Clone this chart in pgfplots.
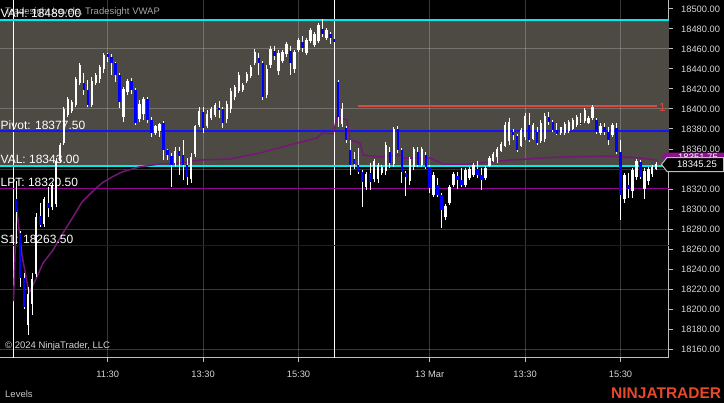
\documentclass[border=0pt]{standalone}
\usepackage{fontspec}
\setmainfont{Liberation Sans}
\usepackage{pgfplots}
\usepackage{pgfplotstable}
\pgfplotsset{compat=1.18}
\definecolor{shadecol}{RGB}{77,74,68}
\definecolor{lvlcyan}{RGB}{0,235,235}
\definecolor{pivotblue}{RGB}{20,20,245}
\definecolor{s1blue}{RGB}{10,10,200}
\definecolor{lptmag}{RGB}{150,0,150}
\definecolor{vwapcol}{RGB}{115,25,115}
\definecolor{candleblue}{RGB}{0,0,255}
\definecolor{tickgrey}{RGB}{215,215,215}
\definecolor{axgrey}{RGB}{190,190,190}
\definecolor{redline}{RGB}{215,75,65}
\definecolor{ntorange}{RGB}{232,72,42}
\definecolor{tagpurple}{RGB}{140,20,140}

% i = bar index (day 1: 0-80, day 2: 81-161), o h l c, u = 1 white (up) / 0 blue (down)
\pgfplotstableread{
i o h l c u
0 18310 18328 18265 18297 0
1 18276 18278 18222 18231 0
2 18231 18236 18200 18202 0
3 18184 18222 18174 18215 1
4 18205 18236 18194 18230 1
5 18235 18296 18232 18292 1
6 18293 18306 18282 18284 0
7 18285 18312 18282 18310 1
8 18306 18322 18292 18301 0
9 18302 18326 18299 18324 1
10 18305 18351 18302 18348 1
11 18348 18366 18346 18364 1
12 18366 18402 18364 18400 1
13 18394 18412 18392 18410 1
14 18398 18409 18396 18407 1
15 18404 18432 18402 18430 1
16 18426 18446 18424 18444 1
17 18426 18436 18414 18419 0
18 18419 18429 18402 18404 0
19 18404 18432 18402 18428 1
20 18426 18436 18424 18434 1
21 18430 18444 18426 18442 1
22 18440 18456 18436 18454 1
23 18455 18456 18447 18452 0
24 18452 18455 18434 18446 0
25 18446 18447 18427 18434 0
26 18434 18436 18401 18407 0
27 18392 18422 18387 18420 1
28 18417 18430 18414 18428 1
29 18428 18431 18415 18419 0
30 18419 18421 18384 18386 0
31 18390 18409 18387 18405 1
32 18395 18412 18389 18410 1
33 18410 18412 18386 18389 0
34 18389 18392 18372 18376 0
35 18376 18384 18374 18383 1
36 18378 18386 18372 18385 1
37 18386 18388 18349 18359 0
38 18359 18360 18349 18354 0
39 18353 18356 18322 18344 0
40 18346 18362 18342 18358 1
41 18358 18362 18334 18353 0
42 18354 18369 18329 18344 0
43 18344 18351 18324 18332 0
44 18330 18356 18326 18352 1
45 18355 18384 18352 18383 1
46 18384 18402 18382 18398 1
47 18397 18402 18376 18381 0
48 18383 18399 18381 18395 1
49 18391 18402 18389 18400 1
50 18394 18406 18392 18404 1
51 18401 18408 18391 18399 0
52 18400 18402 18381 18386 0
53 18390 18408 18386 18405 1
54 18400 18421 18396 18418 1
55 18412 18424 18409 18422 1
56 18418 18437 18416 18434 1
57 18419 18426 18417 18424 1
58 18428 18437 18426 18435 1
59 18433 18444 18431 18442 1
60 18446 18460 18444 18457 1
61 18451 18456 18434 18446 0
62 18446 18448 18409 18412 0
63 18414 18444 18411 18440 1
64 18444 18463 18441 18460 1
65 18458 18463 18449 18453 0
66 18438 18459 18434 18456 1
67 18448 18459 18446 18457 1
68 18455 18467 18452 18465 1
69 18458 18463 18434 18446 0
70 18440 18459 18436 18457 1
71 18459 18471 18457 18469 1
72 18467 18473 18457 18461 0
73 18456 18471 18454 18469 1
74 18468 18481 18466 18479 1
75 18464 18477 18462 18475 1
76 18468 18486 18466 18484 1
77 18480 18490 18472 18475 0
78 18471 18481 18469 18479 1
79 18475 18477 18465 18471 0
80 18470 18472 18464 18467 0
81 18427 18429 18382 18392 0
82 18385 18406 18382 18400 1
83 18381 18383 18366 18369 0
84 18359 18369 18334 18344 0
85 18350 18357 18340 18345 0
86 18344 18361 18335 18337 0
87 18337 18339 18302 18327 0
88 18322 18337 18319 18335 1
89 18336 18346 18319 18327 0
90 18330 18350 18327 18348 1
91 18330 18346 18326 18344 1
92 18336 18344 18334 18342 1
93 18338 18367 18334 18364 1
94 18357 18362 18341 18346 0
95 18345 18382 18342 18380 1
96 18380 18383 18356 18359 0
97 18359 18361 18326 18337 0
98 18336 18338 18313 18332 0
99 18328 18352 18324 18350 1
100 18342 18362 18339 18360 1
101 18357 18362 18342 18344 0
102 18344 18362 18342 18360 1
103 18354 18357 18340 18342 0
104 18342 18344 18316 18321 0
105 18314 18337 18312 18334 1
106 18324 18331 18312 18314 0
107 18314 18316 18281 18299 0
108 18292 18305 18289 18303 1
109 18306 18324 18304 18322 1
110 18324 18337 18322 18335 1
111 18333 18337 18320 18329 0
112 18329 18341 18322 18324 0
113 18324 18341 18322 18339 1
114 18331 18342 18329 18340 1
115 18334 18346 18332 18344 1
116 18340 18348 18331 18334 0
117 18334 18341 18319 18329 0
118 18331 18343 18329 18341 1
119 18343 18353 18342 18351 1
120 18348 18357 18347 18355 1
121 18352 18362 18346 18360 1
122 18358 18367 18357 18365 1
123 18363 18387 18362 18384 1
124 18368 18391 18364 18387 1
125 18377 18380 18369 18374 0
126 18373 18375 18357 18359 0
127 18363 18381 18362 18379 1
128 18372 18396 18369 18393 1
129 18384 18396 18367 18369 0
130 18370 18386 18369 18384 1
131 18377 18382 18364 18366 0
132 18368 18389 18366 18386 1
133 18370 18396 18367 18393 1
134 18392 18397 18384 18387 0
135 18387 18389 18377 18379 0
136 18379 18386 18374 18375 0
137 18376 18382 18374 18382 1
138 18376 18387 18374 18385 1
139 18378 18389 18376 18387 1
140 18380 18391 18379 18389 1
141 18384 18394 18382 18392 1
142 18386 18396 18384 18385 0
143 18388 18401 18386 18399 1
144 18386 18393 18385 18391 1
145 18391 18404 18389 18402 1
146 18389 18391 18375 18377 0
147 18376 18386 18374 18383 1
148 18382 18386 18374 18377 0
149 18377 18382 18364 18369 0
150 18374 18386 18372 18384 1
151 18381 18386 18355 18357 0
152 18357 18369 18289 18314 0
153 18310 18336 18306 18334 1
154 18324 18336 18311 18320 0
155 18318 18341 18311 18339 1
156 18332 18350 18329 18348 1
157 18347 18349 18330 18332 0
158 18320 18341 18310 18338 1
159 18328 18342 18324 18340 1
160 18335 18344 18332 18342 1
161 18340 18347 18339 18345.25 1
}\candles

\pgfplotstableread{
i v
-0.70 18208
0.05 18302
1.43 18254
3.19 18216
5.20 18232
6.72 18246
9.23 18259
11.75 18276
14.26 18292
16.53 18307
19.04 18317
21.56 18326
24.08 18332
26.59 18337
30.87 18342
35.90 18345
41.18 18346
46.21 18349
53.77 18350
61.31 18356
70.62 18366
75.65 18371
76.91 18376
79.69 18375
80.68 18392
83.20 18389
83.95 18369
86.47 18366
87.22 18354
91.50 18352
96.53 18354
97.28 18351
104.07 18351
107.34 18345
114.14 18345
124.20 18349
136.78 18352
149.36 18353
156.91 18351
161.18 18349
}\vwap

\begin{document}
\begin{tikzpicture}[x=1bp,y=1bp]
\fill[black] (0,-45.5) rectangle (724,357.5);
\begin{axis}[
  at={(0,0)}, anchor=south west, scale only axis,
  width=668.5bp, height=357.5bp,
  xmin=-4.10, xmax=164.08, ymin=18151.5, ymax=18509,
  clip=false,
  axis x line*=bottom, axis y line*=right,
  axis line style={draw=axgrey, line width=1bp, -},
  tick align=outside, major tick length=4.5bp,
  tick style={draw=axgrey, line width=1bp},
  xtick={23,47,71,104,128,152},
  xticklabels={11:30,13:30,15:30,13 Mar,13:30,15:30},
  ytick={18160,18180,18200,18220,18240,18260,18280,18300,18320,18340,18360,18380,18400,18420,18440,18460,18480,18500},
  scaled y ticks=false,
  minor tick num=0,
  yticklabel={\pgfmathprintnumber[fixed,fixed zerofill,precision=2,1000 sep={},assume math mode=true]{\tick}},
  yticklabel style={anchor=west, inner sep=0pt, xshift=8bp, font=\fontsize{9.3bp}{11bp}\selectfont, text=tickgrey},
  xticklabel style={anchor=north, inner sep=0pt, yshift=-8.5bp, font=\fontsize{9.3bp}{11bp}\selectfont, text=tickgrey},
  gridl/.style={white, opacity=0.22, line width=1bp, forget plot},
]
% value area shading
\addplot[fill=shadecol, draw=none, forget plot] coordinates {(-4.10,18343) (164.08,18343) (164.08,18489) (-4.10,18489)} -- cycle;
% grid
\pgfplotsinvokeforeach{18160,18220,18280,18340,18400,18460}{
  \addplot[gridl] coordinates {(-4.10,#1) (164.08,#1)};
}
\pgfplotsinvokeforeach{23,47,71,104,128,152}{
  \addplot[gridl] coordinates {(#1,18151.5) (#1,18509)};
}
% session breaks
\addplot[white, line width=1.3bp, forget plot] coordinates {(-0.7,18151.5) (-0.7,18509)};
\addplot[white, line width=1.3bp, forget plot] coordinates {(80.0,18151.5) (80.0,18509)};
% levels
\addplot[lvlcyan, line width=1.6bp, forget plot] coordinates {(-4.10,18489) (164.08,18489)};
\addplot[lvlcyan, line width=1.6bp, forget plot] coordinates {(-4.10,18343) (164.08,18343)};
\addplot[draw=pivotblue, line width=2bp, opacity=1, forget plot] coordinates {(-4.10,18377.5) (164.08,18377.5)};
\addplot[draw=lptmag, line width=1.6bp, forget plot] coordinates {(-4.10,18320.5) (164.08,18320.5)};
\addplot[draw=s1blue, line width=1.6bp, opacity=1, forget plot] coordinates {(-4.10,18263.5) (164.08,18263.5)};
\addplot[draw=redline, line width=1.2bp, opacity=1, forget plot] coordinates {(85.96,18403) (161.2,18403)};
% VWAP
\addplot[vwapcol, line width=1.5bp, forget plot] table[x=i, y=v] {\vwap};
% candles: wick then body, one pair per bar
\pgfplotsforeachungrouped \r in {0,...,161}{%
  \pgfplotstablegetelem{\r}{i}\of\candles \let\vi=\pgfplotsretval
  \pgfplotstablegetelem{\r}{o}\of\candles \let\vo=\pgfplotsretval
  \pgfplotstablegetelem{\r}{h}\of\candles \let\vh=\pgfplotsretval
  \pgfplotstablegetelem{\r}{l}\of\candles \let\vl=\pgfplotsretval
  \pgfplotstablegetelem{\r}{c}\of\candles \let\vc=\pgfplotsretval
  \pgfplotstablegetelem{\r}{u}\of\candles \let\vu=\pgfplotsretval
  \ifnum\vu=1 \def\bodycol{white}\else\def\bodycol{candleblue}\fi
  \edef\temp{%
    \noexpand\addplot[draw=white, line width=1bp, opacity=1, forget plot] coordinates {(\vi,\vl) (\vi,\vh)};
    \noexpand\addplot[draw=\bodycol, line width=2.4bp, opacity=1, line cap=butt, forget plot] coordinates {(\vi,\vo) (\vi,\vc)};
  }%
  \temp
}
\end{axis}
% texts (y = 357.5 - pixel row)
\node[anchor=base west, inner sep=0pt, text={rgb,255:red,165;green,165;blue,165}, font=\fontsize{9.5bp}{11bp}\selectfont] at (5,343) {Tradesight Levels, Tradesight VWAP};
\begin{scope}[every node/.style={anchor=base west, inner sep=0pt, text=white, font=\fontsize{12bp}{14bp}\selectfont}]
\node at (0.5,340) {VAH: 18489.00};
\node at (0.5,228.5) {Pivot: 18377.50};
\node at (0.5,194.5) {VAL: 18343.00};
\node at (0.5,171.5) {LPT: 18320.50};
\node at (0.5,114.5) {S1: 18263.50};
\end{scope}
\node[anchor=base west, inner sep=0pt, text=redline, font=\fontsize{12bp}{14bp}\selectfont] at (659,246.5) {1};
\node[anchor=base west, inner sep=0pt, text=tickgrey, font=\fontsize{9.5bp}{11bp}\selectfont] at (5,9.5) {\textcopyright\ 2024 NinjaTrader, LLC};
\node[anchor=base west, inner sep=0pt, text={rgb,255:red,200;green,200;blue,200}, font=\fontsize{9.5bp}{11bp}\selectfont] at (5,-39.5) {Levels};
\node[anchor=base west, inner sep=0pt, text=ntorange, font=\fontsize{15.5bp}{17bp}\selectfont\bfseries] at (611,-40.5) {NINJATRADER};
% price tags
\fill[tagpurple] (661.5,200) -- (666,205) -- (724,205) -- (724,195.5) -- (666,195.5) -- cycle;
\node[text=white, inner sep=0pt, font=\fontsize{9.5bp}{11bp}\selectfont] at (698,200.5) {18351.75};
\filldraw[fill=black, draw=axgrey, line width=1bp] (661.5,193) -- (667,200) -- (723.5,200) -- (723.5,186) -- (667,186) -- cycle;
\node[text=white, inner sep=0pt, font=\fontsize{9.5bp}{11bp}\selectfont] at (697,193) {18345.25};
\pgfresetboundingbox
\path[use as bounding box] (0,-45.5) rectangle (724,357.5);
\end{tikzpicture}
\end{document}
